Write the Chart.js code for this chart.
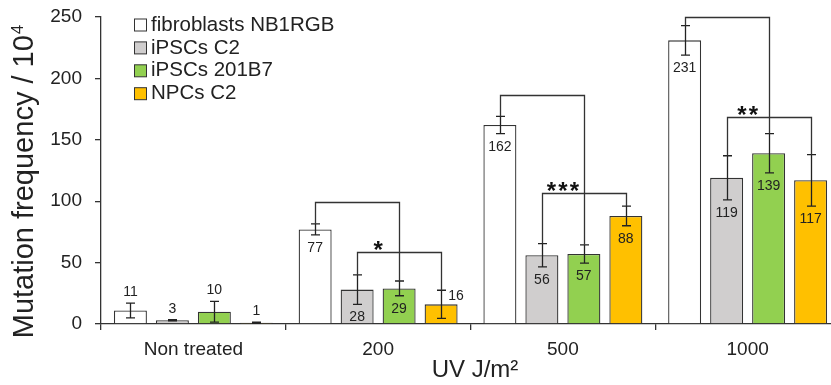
<!DOCTYPE html>
<html><head><meta charset="utf-8">
<script src="https://cdn.jsdelivr.net/npm/chart.js@4.4.1/dist/chart.umd.min.js"></script>
<style>
html,body{margin:0;padding:0;background:#fff;overflow:hidden;}
#wrap{width:831px;height:385px;overflow:hidden;position:relative;background:#fff;}
#wrap canvas{display:block;}
</style></head><body>
<div id="wrap"><canvas id="c" width="842" height="385" style="width:842px;height:385px"></canvas></div>
<script>
const categories = ['Non treated', '200', '500', '1000'];
const seriesNames = ['fibroblasts NB1RGB', 'iPSCs C2', 'iPSCs 201B7', 'NPCs C2'];
const fibroblasts = [11, 77, 162, 231];
const ipscC2 = [3, 28, 56, 119];
const ipsc201B7 = [10, 29, 57, 139];
const npcC2 = [1, 16, 88, 117];
const fibroblastsErr = [6, 4.5, 7, 12];
const ipscC2Err = [0.5, 12, 9.5, 18];
const ipsc201B7Err = [8.5, 6, 7.5, 16];
const npcC2Err = [0.5, 11.5, 8, 21];
const yTicks = [0, 50, 100, 150, 200, 250];
const xTitle = 'UV J/m\u00B2';
const yTitleMain = 'Mutation frequency / 10';
const yTitleSup = '4';
// significance brackets: category index, from series, to series, height (data units), mark
const brackets = [
  {cat: 1, from: 0, to: 2, y: 99, mark: ''},
  {cat: 1, from: 1, to: 3, y: 59, mark: '*'},
  {cat: 2, from: 0, to: 2, y: 186.5, mark: ''},
  {cat: 2, from: 1, to: 3, y: 106.5, mark: '***'},
  {cat: 3, from: 0, to: 2, y: 250.3, mark: ''},
  {cat: 3, from: 1, to: 3, y: 168.8, mark: '**'}
];
// where each value label sits (per series, per category)
const labelPlacement = [
  ['above', 'below', 'below', 'below'],
  ['above', 'below', 'below', 'below'],
  ['above', 'below', 'below', 'below'],
  ['above', 'right', 'below', 'below']
];

const seriesValues = [fibroblasts, ipscC2, ipsc201B7, npcC2];
const seriesErrors = [fibroblastsErr, ipscC2Err, ipsc201B7Err, npcC2Err];
const fills = ['#ffffff', '#d0cece', '#92d050', '#ffc000'];
const FONT = '"Liberation Sans", Arial, Helvetica, sans-serif';
const INK = '#222222';
const LINE = '#333333';

const overlay = {
  id: 'overlay',
  afterDatasetsDraw(chart) {
    const ctx = chart.ctx;
    const y = chart.scales.y;
    ctx.save();
    // error bars
    ctx.strokeStyle = INK;
    ctx.lineWidth = 1.3;
    seriesValues.forEach((vals, s) => {
      const meta = chart.getDatasetMeta(s);
      vals.forEach((v, c) => {
        const bar = meta.data[c];
        const e = seriesErrors[s][c];
        const x = Math.round(bar.x) + 0.5;
        const yt = y.getPixelForValue(v + e), yb = y.getPixelForValue(v - e);
        ctx.beginPath();
        ctx.moveTo(x, yt); ctx.lineTo(x, yb);
        ctx.moveTo(x - 4.5, yt); ctx.lineTo(x + 4.5, yt);
        ctx.moveTo(x - 4.5, yb); ctx.lineTo(x + 4.5, yb);
        ctx.stroke();
      });
    });
    // brackets
    ctx.strokeStyle = LINE;
    brackets.forEach(b => {
      const b1 = chart.getDatasetMeta(b.from).data[b.cat];
      const b2 = chart.getDatasetMeta(b.to).data[b.cat];
      const x1 = Math.round(b1.x) + 0.5, x2 = Math.round(b2.x) + 0.5;
      const yl = Math.round(y.getPixelForValue(b.y)) + 0.5;
      const y1 = y.getPixelForValue(seriesValues[b.from][b.cat] + seriesErrors[b.from][b.cat]);
      const y2 = y.getPixelForValue(seriesValues[b.to][b.cat] + seriesErrors[b.to][b.cat]);
      ctx.beginPath();
      ctx.moveTo(x1, y1); ctx.lineTo(x1, yl); ctx.lineTo(x2, yl); ctx.lineTo(x2, y2);
      ctx.stroke();
      if (b.mark) {
        const bm = chart.getDatasetMeta(b.from + 1).data[b.cat];
        const cx = (b1.x + bm.x) / 2;
        const n = b.mark.length;
        ctx.fillStyle = '#111';
        ctx.font = 'bold 24px ' + FONT;
        ctx.textAlign = 'center';
        ctx.textBaseline = 'alphabetic';
        for (let i = 0; i < n; i++) {
          const sx = cx + (i - (n - 1) / 2) * 11.5;
          ctx.fillText('*', sx, yl - 8.6 + 13.8);
        }
      }
    });
    // value labels
    ctx.fillStyle = INK;
    ctx.font = '14px ' + FONT;
    ctx.textAlign = 'center';
    ctx.textBaseline = 'middle';
    seriesValues.forEach((vals, s) => {
      const meta = chart.getDatasetMeta(s);
      vals.forEach((v, c) => {
        const bar = meta.data[c];
        const e = seriesErrors[s][c];
        const p = labelPlacement[s][c];
        let lx = bar.x, ly;
        if (p === 'above') ly = y.getPixelForValue(v + e) - 11;
        else if (p === 'below') ly = y.getPixelForValue(v - e) + 13;
        else { lx = bar.x + 15; ly = y.getPixelForValue(v) - 8; }
        ctx.fillText(String(v), lx, ly);
      });
    });
    ctx.restore();
  },
  afterDraw(chart) {
    const ctx = chart.ctx;
    ctx.save();
    // legend
    ctx.textAlign = 'left';
    ctx.textBaseline = 'middle';
    ctx.font = '20.5px ' + FONT;
    seriesNames.forEach((name, i) => {
      const cy = 24 + i * 22.9;
      ctx.fillStyle = fills[i];
      ctx.fillRect(134.5, cy - 5, 12, 12);
      ctx.strokeStyle = LINE;
      ctx.lineWidth = 1;
      ctx.strokeRect(134.5, cy - 5, 12, 12);
      ctx.fillStyle = INK;
      ctx.fillText(name, 151, cy + 1);
    });
    // x title
    ctx.font = '24px ' + FONT;
    ctx.textAlign = 'center';
    ctx.fillText(xTitle, 475, 370);
    // y title with superscript
    ctx.translate(25, 182);
    ctx.rotate(-Math.PI / 2);
    ctx.font = '29px ' + FONT;
    const mw = ctx.measureText(yTitleMain).width;
    ctx.font = '17px ' + FONT;
    const sw = ctx.measureText(yTitleSup).width;
    const start = -(mw + sw) / 2;
    ctx.textAlign = 'left';
    ctx.font = '29px ' + FONT;
    ctx.fillText(yTitleMain, start, 0);
    ctx.font = '17px ' + FONT;
    ctx.fillText(yTitleSup, start + mw + 1, -7);
    ctx.restore();
  }
};

new Chart(document.getElementById('c'), {
  type: 'bar',
  data: {
    labels: categories,
    datasets: seriesValues.map((vals, i) => ({
      label: seriesNames[i],
      data: vals,
      backgroundColor: fills[i],
      borderColor: LINE,
      borderWidth: 1.3,
      categoryPercentage: 0.909,
      barPercentage: 0.786
    }))
  },
  options: {
    responsive: false,
    animation: false,
    devicePixelRatio: 1,
    layout: {padding: {top: 17, right: 2, bottom: 0, left: 0}},
    plugins: {legend: {display: false}, tooltip: {enabled: false}},
    scales: {
      x: {
        grid: {display: true, drawOnChartArea: false, drawTicks: true, tickLength: 6, offset: true, color: LINE, lineWidth: 1.3},
        border: {display: true, color: LINE, width: 1.3},
        ticks: {color: INK, font: {family: FONT, size: 19}, padding: 8, autoSkip: false, maxRotation: 0},
        afterFit(scale) { scale.height = 61; }
      },
      y: {
        min: 0, max: 250,
        afterBuildTicks(scale) { scale.ticks = yTicks.map(v => ({value: v})); },
        grid: {display: true, drawOnChartArea: false, drawTicks: true, tickLength: 6, color: LINE, lineWidth: 1.3},
        border: {display: true, color: LINE, width: 1.3},
        ticks: {color: INK, font: {family: FONT, size: 19}, padding: 13},
        afterFit(scale) { scale.width = 101; scale.paddingTop = 4; scale.paddingBottom = 4; }
      }
    }
  },
  plugins: [overlay]
});
</script>
</body></html>
